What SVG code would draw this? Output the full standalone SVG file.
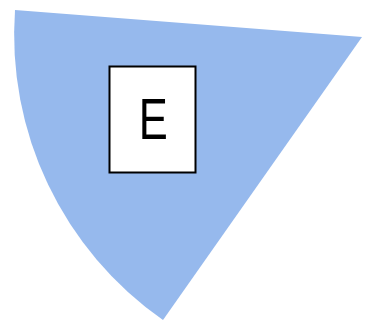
<svg xmlns="http://www.w3.org/2000/svg" width="367" height="322" viewBox="0 0 367 322">
<style>
.sector{fill:#96b9ed;stroke:none}
.box{fill:#ffffff;stroke:#000000;stroke-width:2}
.lbl{font-family:"Liberation Sans","DejaVu Sans",sans-serif;font-size:58px;fill:#000000;text-anchor:middle}
</style>
<g id="sector">
<path class="sector" d="M362,37 L15,10 A348,348 0 0 0 163,320 Z"/>
</g>
<g id="nodeE">
<rect class="box" x="109.5" y="66.5" width="86" height="106"/>
<text class="lbl" transform="scale(0.75,1)" x="204.4" y="139">E</text>
</g>
<g id="connectors"></g>
</svg>
